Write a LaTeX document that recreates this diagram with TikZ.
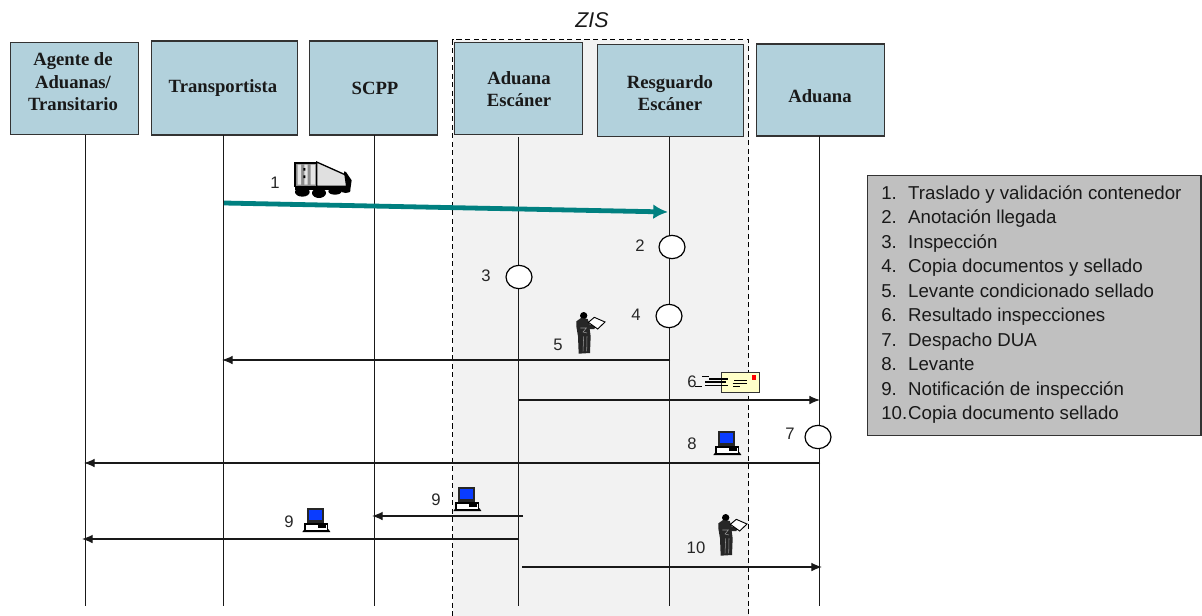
\documentclass[tikz,border=0pt]{standalone}
\usepackage{fontspec}
\setmainfont{Liberation Sans}
\newfontfamily\serifb{Liberation Serif}
\usetikzlibrary{arrows.meta,shapes.geometric}
\definecolor{actorfill}{HTML}{B2D1DC}
\definecolor{zonefill}{HTML}{F2F2F2}
\definecolor{legendfill}{HTML}{C0C0C0}
\definecolor{tealline}{HTML}{008080}
\definecolor{screenblue}{HTML}{0A3CFF}
\definecolor{envfill}{HTML}{FFFFC8}
\definecolor{linegray}{HTML}{333333}
\tikzset{
  x=0.75pt,y=-0.75pt,
  actor/.style={draw=linegray,line width=0.95pt,fill=actorfill,inner sep=0pt},
  actortext/.style={align=center,inner sep=0pt,font=\serifb\bfseries\fontsize{14}{16.9}\selectfont,text=black!90},
  lifeline/.style={draw=black!90,line width=0.85pt},
  msg/.style={draw=black!90,line width=0.85pt,-{Latex[length=8pt,width=6.5pt]}},
  mainmsg/.style={draw=tealline,line width=3.6pt,-{Latex[length=11pt,width=11pt]}},
  event/.style={draw=black,fill=white,line width=0.9pt,ellipse,inner sep=0pt,minimum width=19.5pt,minimum height=17.5pt},
  num/.style={font=\fontsize{12.5}{14}\selectfont,text=black!85,inner sep=0pt},
  person/.pic={\begin{scope}[scale=0.3333]
    \fill[black] (20,-7) circle[radius=11];
    \fill[black!85] (-2,10) -- (12,0) -- (32,3) -- (38,20) -- (57,23) -- (52,33) -- (38,33) -- (41,55) -- (39,105) -- (5,107) -- (3,55) -- (-2,25) -- cycle;
    \draw[white!60!black,line width=0.4pt] (10,30) -- (28,30) -- (18,42) -- (30,45) (20,55) -- (18,100) (30,55) -- (29,100);
    \draw[black,fill=white,line width=0.7pt] (34,13) -- (52,-2) -- (84,12) -- (62,33) -- cycle;
    \end{scope}},
  computer/.pic={\begin{scope}[scale=0.3333]
    \fill[black!85] (5,0) rectangle (57,46);
    \fill[screenblue] (12,7) rectangle (50,37);
    \draw[black,fill=white,line width=0.9pt] (0,48) rectangle (67,68);
    \fill[black] (38,52) rectangle (64,60);
    \fill[black] (-8,72) -- (-2,64) -- (2,64) -- (2,68) -- (67,68) -- (67,64) -- (71,64) -- (76,72) -- cycle;
    \end{scope}},
  truck/.pic={\begin{scope}[scale=0.3333]
    \fill[black] (0,70) rectangle (165,85);
    \fill[black] (22,90) ellipse[x radius=22,y radius=14] (72,93) ellipse[x radius=21,y radius=15] (120,88) ellipse[x radius=20,y radius=10] (152,85) ellipse[x radius=14,y radius=8];
    \fill[black] (147,28) -- (153,30) -- (170,55) -- (165,90) -- (148,90) -- cycle;
    \draw[black,fill=black!12,line width=1pt] (65,0) -- (150,38) -- (155,73) -- (65,73) -- cycle;
    \draw[black,fill=black!45,line width=1pt] (0,3) rectangle (65,73);
    \fill[white!90!black] (8,8) rectangle (18,68) (28,8) rectangle (38,68) (47,8) rectangle (60,68);
    \fill[black] (25,18) rectangle (31,26) (25,40) rectangle (31,48);
    \end{scope}},
  envelope/.pic={\begin{scope}[scale=0.3333]
    \draw[black!80,fill=envfill,line width=0.7pt] (0,0) rectangle (115,60);
    \fill[red] (93,8) rectangle (106,23);
    \draw[black,line width=1.1pt] (-57,13) -- (-35,13) (-35,21) -- (-15,21) (-15,21) -- (20,21) (40,25) -- (78,25)
      (-47,30) -- (15,30) (35,35) -- (78,35) (-78,44) -- (-57,44) (-47,40) -- (22,40) (37,44) -- (58,44);
    \end{scope}}
}
\begin{document}
\begin{tikzpicture}
\useasboundingbox (0,0) rectangle (1202,615);
% ZIS zone
\node[draw=black,dash pattern=on 3.8pt off 2.6pt,line width=1.1pt,fill=zonefill,minimum width=222pt,minimum height=433pt,inner sep=0pt,anchor=north west] (zis) at (452,39) {};
\node[font=\itshape\fontsize{16}{18}\selectfont,inner sep=0pt,text=black!90] (zislabel) at (592,20) {ZIS};
% Actors
\node[actor,minimum width=96.5pt,minimum height=69.5pt] (agente) at (74.5,88.5) {};
\node[actor,minimum width=110pt,minimum height=70.5pt] (transp) at (224.5,88) {};
\node[actor,minimum width=96.5pt,minimum height=70.5pt] (scpp) at (373.5,88) {};
\node[actor,minimum width=96.5pt,minimum height=69.5pt] (adesc) at (518.5,88.5) {};
\node[actor,minimum width=110pt,minimum height=69.5pt] (resg) at (670.5,90.5) {};
\node[actor,minimum width=96pt,minimum height=69pt] (aduana) at (820.5,90) {};
\node[actortext] (agentetxt) at (73,82) {Agente de\\Aduanas/\\Transitario};
\node[actortext] (transptxt) at (223,88) {Transportista};
\node[actortext] (scpptxt) at (375,88) {SCPP};
\node[actortext] (adesctxt) at (519,89) {Aduana\\Escáner};
\node[actortext] (resgtxt) at (670,93) {Resguardo\\Escáner};
\node[actortext] (aduanatxt) at (820,96) {Aduana};
% Lifeline ends
\coordinate (tagente) at (85.5,135); \coordinate (bagente) at (85.5,606);
\coordinate (ttransp) at (223.7,135); \coordinate (btransp) at (223.7,606);
\coordinate (tscpp) at (374.7,135); \coordinate (bscpp) at (374.7,606);
\coordinate (tadesc) at (518.7,137); \coordinate (badesc) at (518.7,606);
\coordinate (tresg) at (669.7,137); \coordinate (bresg) at (669.7,606);
\coordinate (taduana) at (819.7,136); \coordinate (baduana) at (819.7,606);
\draw[lifeline] (tagente) -- (bagente);
\draw[lifeline] (ttransp) -- (btransp);
\draw[lifeline] (tscpp) -- (bscpp);
\draw[lifeline] (tadesc) -- (badesc);
\draw[lifeline] (tresg) -- (bresg);
\draw[lifeline] (taduana) -- (baduana);
% Message ends
\coordinate (m1a) at (224,203); \coordinate (m1b) at (668,212);
\coordinate (m5a) at (670,360); \coordinate (m5b) at (222,360);
\coordinate (m6a) at (519,400); \coordinate (m6b) at (820,400);
\coordinate (m8a) at (820,463); \coordinate (m8b) at (84,463);
\coordinate (m9a) at (523,516); \coordinate (m9b) at (372,516);
\coordinate (m9c) at (519,539); \coordinate (m9d) at (82,539);
\coordinate (m10a) at (522,567); \coordinate (m10b) at (822,567);
\draw[mainmsg] (m1a) -- (m1b);
\draw[msg] (m5a) -- (m5b);
\draw[msg] (m6a) -- (m6b);
\draw[msg] (m8a) -- (m8b);
\draw[msg] (m9a) -- (m9b);
\draw[msg] (m9c) -- (m9d);
\draw[msg] (m10a) -- (m10b);
% Events
\node[event] (e2) at (672,247) {};
\node[event] (e3) at (519,277) {};
\node[event] (e4) at (669,316) {};
\node[event] (e7) at (818,437) {};
% Numbers
\node[num] (n1) at (275,183) {1};
\node[num] (n2) at (640,246) {2};
\node[num] (n3) at (486,276) {3};
\node[num] (n4) at (636,315) {4};
\node[num] (n5) at (558,345) {5};
\node[num] (n6) at (692,382) {6};
\node[num] (n7) at (790,434) {7};
\node[num] (n8) at (692,444) {8};
\node[num] (n9a) at (436,500) {9};
\node[num] (n9b) at (289,522) {9};
\node[num] (n10) at (696,548) {10};
% Icons
\pic at (295,162) {truck};
\pic at (577,318) {person};
\pic at (719,520) {person};
\pic at (721,372) {envelope};
\pic at (716,431) {computer};
\pic at (456,487) {computer};
\pic at (305,508) {computer};
% Legend
\node[draw=linegray,line width=0.9pt,fill=legendfill,anchor=north west,minimum width=250pt,minimum height=195pt,inner sep=0pt] (legendbox) at (867,175) {};
\node[anchor=west,align=left,inner sep=0pt,font=\fontsize{14}{18.35}\selectfont,text=black!90] (legend) at (881,304.5) {%
\makebox[20.2pt][l]{1.}Traslado y validación contenedor\\
\makebox[20.2pt][l]{2.}Anotación llegada\\
\makebox[20.2pt][l]{3.}Inspección\\
\makebox[20.2pt][l]{4.}Copia documentos y sellado\\
\makebox[20.2pt][l]{5.}Levante condicionado sellado\\
\makebox[20.2pt][l]{6.}Resultado inspecciones\\
\makebox[20.2pt][l]{7.}Despacho DUA\\
\makebox[20.2pt][l]{8.}Levante\\
\makebox[20.2pt][l]{9.}Notificación de inspección\\
\makebox[20.2pt][l]{10.}Copia documento sellado};
\end{tikzpicture}
\end{document}
